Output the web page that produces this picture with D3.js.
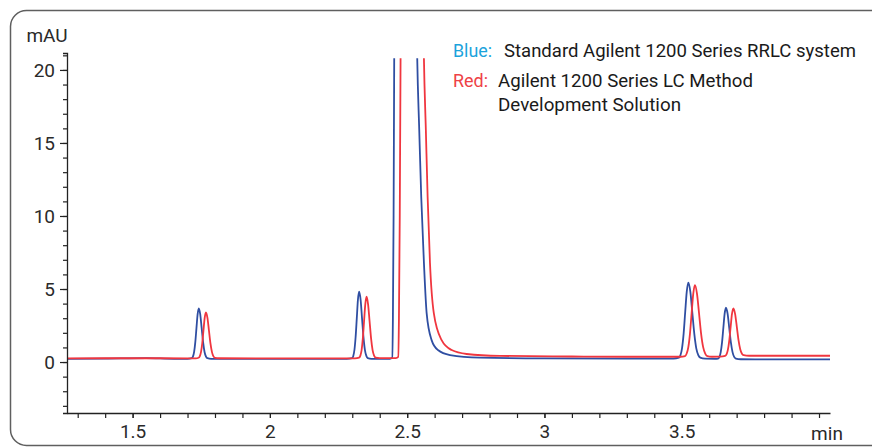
<!DOCTYPE html>
<html>
<head>
<meta charset="utf-8">
<script src="https://cdn.jsdelivr.net/npm/d3@7"></script>
<style>
  body { margin: 0; background: #fff; }
  svg { display: block; font-family: Roboto, "Liberation Sans", sans-serif; }
</style>
</head>
<body>
<div id="chart"></div>
<script>
// chromatogram traces (time in min, signal in mAU)
var blueTime = [1.261, 1.40, 1.55, 1.65, 1.700,
  1.7155, 1.7197, 1.724, 1.7282, 1.7325, 1.7367, 1.741, 1.7463, 1.7515, 1.7568, 1.762, 1.7673, 1.7725, 1.786,
  1.95, 2.15, 2.280,
  2.2995, 2.3037, 2.308, 2.3122, 2.3165, 2.3207, 2.325, 2.3303, 2.3355, 2.3408, 2.346, 2.3513, 2.3565, 2.370,
  2.437, 2.4455, 2.448, 2.4505, 2.4528, 2.459, 2.492, 2.517, 2.5366, 2.5439, 2.5512, 2.561, 2.5709, 2.589, 2.612, 2.656, 2.765,
  3.0, 3.3, 3.470,
  3.4895, 3.4953, 3.501, 3.5068, 3.5125, 3.5183, 3.524, 3.5313, 3.5385, 3.5458, 3.553, 3.5603, 3.5675, 3.585,
  3.620, 3.6325, 3.6373, 3.642, 3.6468, 3.6515, 3.6563, 3.661, 3.667, 3.673, 3.679, 3.685, 3.691, 3.697, 3.715,
  3.85, 4.04];
var blueSignal = [0.22, 0.24, 0.27, 0.22, 0.22,
  0.26, 0.37, 0.69, 1.34, 2.32, 3.27, 3.68, 3.27, 2.32, 1.34, 0.69, 0.37, 0.26, 0.22,
  0.22, 0.22, 0.22,
  0.27, 0.42, 0.84, 1.71, 3.01, 4.28, 4.82, 4.28, 3.01, 1.71, 0.84, 0.42, 0.27, 0.22,
  0.22, 0.3, 3, 10, 21, 60, 300, 60, 20.8, 15.9, 11.3, 6.8, 3.35, 1.5, 0.82, 0.48, 0.30,
  0.25, 0.24, 0.24,
  0.30, 0.47, 0.94, 1.93, 3.39, 4.82, 5.43, 4.82, 3.39, 1.93, 0.94, 0.47, 0.30, 0.23,
  0.22, 0.24, 0.35, 0.68, 1.34, 2.33, 3.31, 3.72, 3.31, 2.33, 1.34, 0.68, 0.35, 0.24, 0.19,
  0.18, 0.18];

var redTime = [1.261, 1.40, 1.55, 1.70, 1.730,
  1.740, 1.7445, 1.749, 1.7535, 1.758, 1.7625, 1.767, 1.7725, 1.778, 1.7835, 1.789, 1.7945, 1.800, 1.815,
  2.0, 2.2, 2.310,
  2.325, 2.3295, 2.334, 2.3385, 2.343, 2.3475, 2.352, 2.3575, 2.363, 2.3685, 2.374, 2.3795, 2.385, 2.400,
  2.459, 2.4674, 2.470, 2.473, 2.476, 2.482, 2.517, 2.543, 2.561, 2.568, 2.5745, 2.583, 2.597, 2.6255, 2.662, 2.7166, 2.838,
  3.1, 3.3, 3.495,
  3.512, 3.518, 3.524, 3.530, 3.536, 3.542, 3.548, 3.5555, 3.563, 3.5705, 3.578, 3.5855, 3.593, 3.610,
  3.640, 3.658, 3.663, 3.668, 3.673, 3.678, 3.683, 3.688, 3.6943, 3.7005, 3.7068, 3.713, 3.7193, 3.7255, 3.745,
  4.04];
var redSignal = [0.25, 0.26, 0.26, 0.25, 0.25,
  0.29, 0.39, 0.68, 1.27, 2.16, 3.03, 3.4, 3.03, 2.16, 1.27, 0.68, 0.39, 0.29, 0.26,
  0.25, 0.25, 0.25,
  0.30, 0.44, 0.82, 1.62, 2.81, 3.97, 4.47, 3.97, 2.81, 1.62, 0.82, 0.44, 0.30, 0.27,
  0.27, 0.35, 3, 10, 21, 60, 280, 60, 20.8, 15.9, 11.3, 6.8, 3.35, 1.5, 0.82, 0.55, 0.42,
  0.38, 0.36, 0.36,
  0.41, 0.58, 1.02, 1.95, 3.34, 4.69, 5.27, 4.69, 3.34, 1.95, 1.02, 0.58, 0.41, 0.36,
  0.37, 0.42, 0.52, 0.83, 1.45, 2.38, 3.29, 3.68, 3.3, 2.43, 1.5, 0.88, 0.57, 0.47, 0.43,
  0.43];

var yMajorTicks = [0, 5, 10, 15, 20];
var yMinorTicks = d3.range(-3, 22);
var xMajorTicks = [1.5, 2, 2.5, 3, 3.5];
var xMinorTicks = d3.range(13, 41).map(function(d) { return d / 10; });

var legendKeys = ['Blue:', 'Red:', ''];
var legendKeyColors = ['#1ba3dc', '#ee4146', '#ee4146'];
var legendTexts = ['Standard Agilent 1200 Series RRLC system', 'Agilent 1200 Series LC Method', 'Development Solution'];

var width = 872, height = 448;
var font = 'Roboto, "Liberation Sans", sans-serif';

var x = d3.scaleLinear().domain([1.261, 4.04]).range([67, 830]);
var y = d3.scaleLinear().domain([-3.49, 21.16]).range([413, 53]);

var svg = d3.select('#chart').append('svg')
  .attr('width', width)
  .attr('height', height);

// frame
svg.append('rect')
  .attr('x', 10.5).attr('y', 10.5)
  .attr('width', 900).attr('height', 435)
  .attr('rx', 16).attr('ry', 16)
  .attr('fill', 'none')
  .attr('stroke', '#5f5f5f')
  .attr('stroke-width', 1.5);

// clip so the big peak stops just under the axis top
svg.append('clipPath').attr('id', 'plot-clip')
  .append('rect')
  .attr('x', 67).attr('y', 58.3)
  .attr('width', 830 - 67).attr('height', 413 - 58.3);

var line = d3.line()
  .x(function(d) { return x(d[0]); })
  .y(function(d) { return y(d[1]); })
  .curve(d3.curveMonotoneX);

var traces = [
  { name: 'blue', color: '#2f4ea2', data: d3.zip(blueTime, blueSignal) },
  { name: 'red', color: '#f0363f', data: d3.zip(redTime, redSignal) }
];

svg.append('g')
  .attr('clip-path', 'url(#plot-clip)')
  .selectAll('path')
  .data(traces)
  .enter().append('path')
    .attr('d', function(d) { return line(d.data); })
    .attr('fill', 'none')
    .attr('stroke', function(d) { return d.color; })
    .attr('stroke-width', 1.8)
    .attr('stroke-linejoin', 'round');

// y axis
var yAxis = svg.append('g').attr('transform', 'translate(67,0)');

yAxis.call(d3.axisLeft(y).tickValues(yMinorTicks).tickSize(4).tickFormat(''));
yAxis.append('g').call(d3.axisLeft(y).tickValues(yMajorTicks).tickSize(7).tickPadding(5));
yAxis.selectAll('g g .domain').remove();

yAxis.selectAll('.domain').attr('stroke', '#222').attr('stroke-width', 1.3);
yAxis.selectAll('.tick line').attr('stroke', '#222').attr('stroke-width', 1.2);
yAxis.selectAll('.tick text')
  .attr('font-size', 19)
  .attr('fill', '#2a2a2a')
  .attr('font-family', font);

// x axis
var xAxis = svg.append('g').attr('transform', 'translate(0,413)');

xAxis.call(d3.axisBottom(x).tickValues(xMinorTicks).tickSize(5).tickFormat('').tickSizeOuter(0));
xAxis.append('g').call(d3.axisBottom(x).tickValues(xMajorTicks).tickSize(5).tickPadding(7).tickSizeOuter(0)
  .tickFormat(d3.format('')));
xAxis.selectAll('g g .domain').remove();

xAxis.selectAll('.domain').attr('stroke', '#222').attr('stroke-width', 1.3);
xAxis.selectAll('.tick line').attr('stroke', '#222').attr('stroke-width', 1.2);
xAxis.selectAll('.tick text')
  .attr('font-size', 19)
  .attr('fill', '#2a2a2a')
  .attr('font-family', font);

// axis unit labels
svg.append('text')
  .attr('x', 47).attr('y', 42)
  .attr('text-anchor', 'middle')
  .attr('font-size', 19)
  .attr('fill', '#2a2a2a')
  .text('mAU');

svg.append('text')
  .attr('x', 827).attr('y', 440)
  .attr('text-anchor', 'middle')
  .attr('font-size', 19)
  .attr('fill', '#2a2a2a')
  .text('min');

// legend, widths
var legendY = [57, 87, 111];
var legendTextX = [504, 498, 498];
var legendTextWidth = [352, 255, 183];
var legendKeyWidth = [39, 35, 0];

var legend = svg.append('g');

legendTexts.forEach(function(txt, i) {
  if (legendKeys[i]) {
    legend.append('text')
      .attr('x', 453).attr('y', legendY[i])
      .attr('font-size', 19)
      .attr('fill', legendKeyColors[i])
      .attr('textLength', legendKeyWidth[i])
      .attr('lengthAdjust', 'spacingAndGlyphs')
      .text(legendKeys[i]);
  }
  legend.append('text')
    .attr('x', legendTextX[i]).attr('y', legendY[i])
    .attr('font-size', 19)
    .attr('fill', '#1a1a1a')
    .attr('textLength', legendTextWidth[i])
    .attr('lengthAdjust', 'spacingAndGlyphs')
    .text(txt);
});
</script>
</body>
</html>
